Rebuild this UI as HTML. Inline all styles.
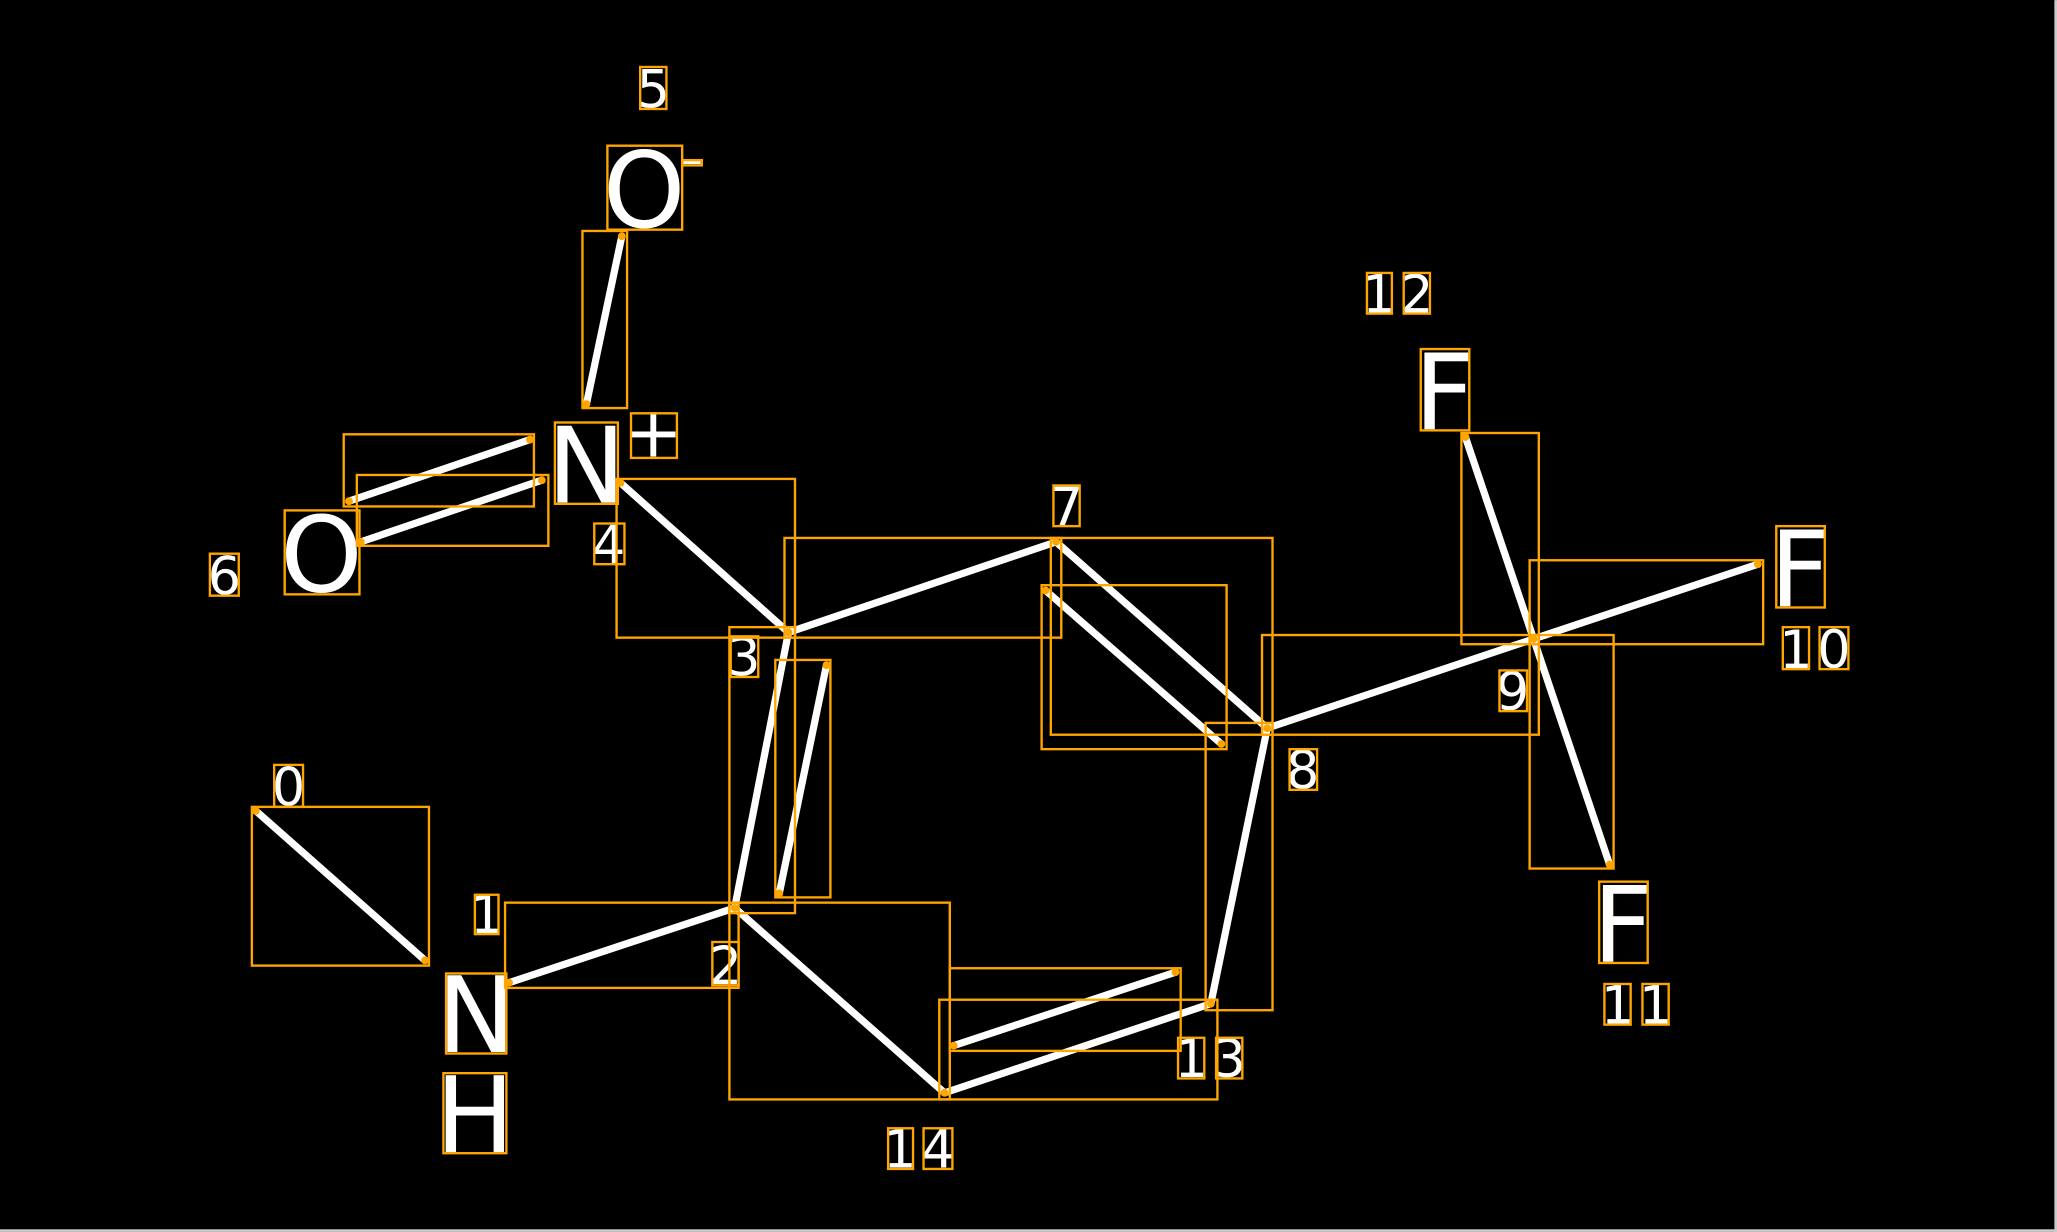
<!DOCTYPE html>
<html><head><meta charset="utf-8"><style>html,body{margin:0;padding:0;background:#000;overflow:hidden}svg{display:block}</style></head>
<body>
<svg width="2057" height="1232" viewBox="0 0 1568 939" xmlns="http://www.w3.org/2000/svg">
<rect width="1568" height="939" fill="#000"/>
<rect x="1566" y="0" width="2" height="939" fill="#ccc"/>
<rect x="0" y="937" width="1568" height="2" fill="#ccc"/>
<g stroke="#fff" stroke-width="5.5" stroke-linecap="round">
<line x1="195" y1="618" x2="324" y2="732"/>
<line x1="388" y1="749" x2="560" y2="692"/>
<line x1="560" y1="692" x2="601" y2="482"/>
<line x1="594" y1="681" x2="630" y2="507"/>
<line x1="560" y1="692" x2="720" y2="833"/>
<line x1="720" y1="833" x2="923" y2="765"/>
<line x1="727" y1="797" x2="896" y2="741"/>
<line x1="923" y1="765" x2="966" y2="555"/>
<line x1="966" y1="555" x2="805" y2="413"/>
<line x1="931" y1="567" x2="797" y2="450"/>
<line x1="805" y1="413" x2="601" y2="482"/>
<line x1="601" y1="482" x2="473" y2="368"/>
<line x1="447" y1="308" x2="474" y2="180"/>
<line x1="266" y1="382" x2="404" y2="335"/>
<line x1="275" y1="413" x2="413" y2="366"/>
<line x1="966" y1="555" x2="1169" y2="487"/>
<line x1="1169" y1="487" x2="1117" y2="333"/>
<line x1="1169" y1="487" x2="1340" y2="430"/>
<line x1="1169" y1="487" x2="1227" y2="659"/>
</g>
<g fill="#fff" font-family="DejaVu Sans, Liberation Sans, sans-serif" text-anchor="middle">
<g font-size="80">
<text x="363" y="802">N</text>
<text x="362" y="878">H</text>
<text x="245" y="451">O</text>
<text x="447" y="383">N</text>
<text x="491" y="173">O</text>
<text x="1101" y="327">F</text>
<text x="1372" y="462">F</text>
<text x="1237" y="733">F</text>
</g>
<g font-size="54"><text x="498" y="348">+</text></g>
<rect x="521" y="122" width="13" height="3"/>
<g font-size="40">
<text x="498" y="82">5</text>
<text x="171" y="453">6</text>
<text x="464" y="429">4</text>
<text x="220" y="614">0</text>
<text x="371" y="711">1</text>
<text x="553" y="750">2</text>
<text x="567" y="515">3</text>
<text x="813" y="400">7</text>
<text x="993" y="601">8</text>
<text x="1153" y="541">9</text>
<text x="1051" y="238">1</text><text x="1080" y="238">2</text>
<text x="1369" y="509">1</text><text x="1398" y="509">0</text>
<text x="1233" y="780">1</text><text x="1262" y="780">1</text>
<text x="908" y="821">1</text><text x="937" y="821">3</text>
<text x="686" y="890">1</text><text x="715" y="890">4</text>
</g>
</g>
<g fill="none" stroke="#ffa500" stroke-width="1.8">
<rect x="192" y="615" width="135" height="121"/>
<rect x="385" y="688" width="178" height="65"/>
<rect x="556" y="478" width="50" height="218"/>
<rect x="591" y="503" width="42" height="181"/>
<rect x="556" y="688" width="168" height="150"/>
<rect x="716" y="762" width="212" height="76"/>
<rect x="724" y="738" width="176" height="63"/>
<rect x="919" y="551" width="51" height="219"/>
<rect x="801" y="410" width="169" height="150"/>
<rect x="794" y="446" width="141" height="125"/>
<rect x="598" y="410" width="211" height="76"/>
<rect x="470" y="365" width="136" height="121"/>
<rect x="444" y="176" width="34" height="135"/>
<rect x="262" y="331" width="145" height="55"/>
<rect x="272" y="362" width="146" height="54"/>
<rect x="962" y="484" width="211" height="76"/>
<rect x="1114" y="330" width="59" height="161"/>
<rect x="1166" y="427" width="178" height="64"/>
<rect x="1166" y="484" width="64" height="178"/>
<rect x="340" y="742" width="46" height="61"/>
<rect x="338" y="818" width="48" height="61"/>
<rect x="217" y="389" width="57" height="64"/>
<rect x="160" y="422" width="22" height="32"/>
<rect x="423" y="322" width="48" height="62"/>
<rect x="481" y="315" width="35" height="34"/>
<rect x="453" y="399" width="23" height="31"/>
<rect x="463" y="111" width="57" height="64"/>
<rect x="520" y="122" width="15" height="4"/>
<rect x="488" y="51" width="20" height="32"/>
<rect x="1083" y="266" width="37" height="62"/>
<rect x="1042" y="208" width="19" height="31"/>
<rect x="1070" y="208" width="20" height="31"/>
<rect x="1354" y="401" width="37" height="62"/>
<rect x="1359" y="478" width="20" height="32"/>
<rect x="1387" y="478" width="22" height="32"/>
<rect x="1219" y="672" width="37" height="62"/>
<rect x="1223" y="750" width="20" height="31"/>
<rect x="1252" y="750" width="20" height="31"/>
<rect x="209" y="583" width="22" height="32"/>
<rect x="362" y="682" width="18" height="30"/>
<rect x="543" y="718" width="20" height="33"/>
<rect x="557" y="485" width="21" height="31"/>
<rect x="803" y="370" width="20" height="31"/>
<rect x="983" y="571" width="21" height="31"/>
<rect x="1143" y="511" width="21" height="31"/>
<rect x="898" y="791" width="20" height="31"/>
<rect x="927" y="791" width="20" height="31"/>
<rect x="677" y="860" width="19" height="31"/>
<rect x="704" y="860" width="22" height="31"/>
</g>
<g fill="#ffa500">
<circle cx="195" cy="618" r="3"/><circle cx="324" cy="732" r="3"/>
<circle cx="388" cy="749" r="3"/><circle cx="560" cy="692" r="3"/>
<circle cx="601" cy="482" r="3"/><circle cx="594" cy="681" r="3"/><circle cx="630" cy="507" r="3"/>
<circle cx="720" cy="833" r="3"/><circle cx="923" cy="765" r="3"/>
<circle cx="727" cy="797" r="3"/><circle cx="896" cy="741" r="3"/>
<circle cx="966" cy="555" r="3"/><circle cx="805" cy="413" r="3"/>
<circle cx="931" cy="567" r="3"/><circle cx="797" cy="450" r="3"/>
<circle cx="473" cy="368" r="3"/><circle cx="447" cy="308" r="3"/><circle cx="474" cy="180" r="3"/>
<circle cx="266" cy="382" r="3"/><circle cx="404" cy="335" r="3"/>
<circle cx="275" cy="413" r="3"/><circle cx="413" cy="366" r="3"/>
<circle cx="1169" cy="487" r="3"/><circle cx="1117" cy="333" r="3"/>
<circle cx="1340" cy="430" r="3"/><circle cx="1227" cy="659" r="3"/>
</g>
</svg>
</body></html>
